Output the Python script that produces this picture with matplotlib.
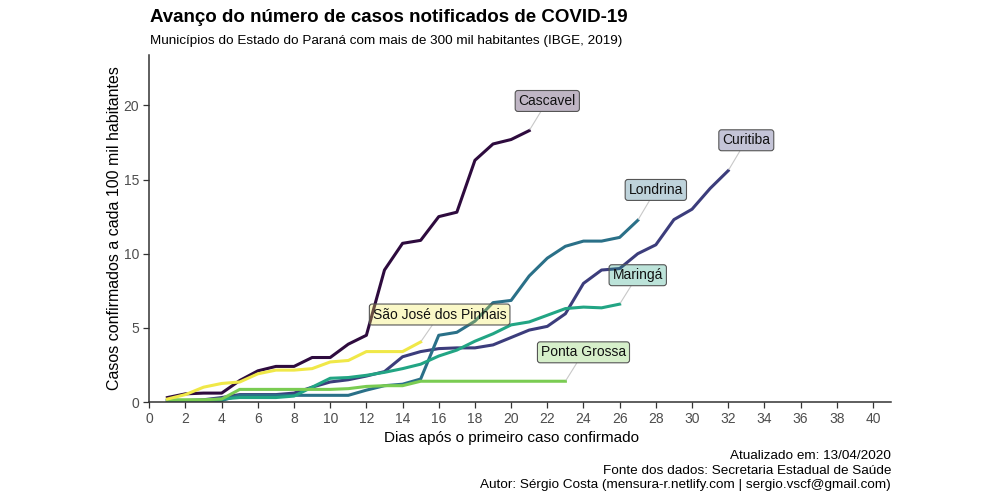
import matplotlib
matplotlib.use("Agg")
import matplotlib.pyplot as plt
from matplotlib.colors import to_rgba

plt.rcParams['font.family'] = ['Liberation Sans', 'DejaVu Sans']

# casos por 100 mil habitantes, a partir do dia 1
cascavel = [0.3, 0.55, 0.6, 0.6, 1.45, 2.1, 2.4, 2.4, 3.0, 3.0, 3.9, 4.5, 8.9, 10.7,
            10.9, 12.5, 12.8, 16.3, 17.4, 17.7, 18.3]
curitiba = [0.1, 0.1, 0.15, 0.3, 0.5, 0.5, 0.5, 0.6, 1.0, 1.35, 1.5, 1.75, 2.05, 3.05,
            3.4, 3.6, 3.65, 3.65, 3.85, 4.35, 4.85, 5.1, 5.95, 8.0, 8.9, 9.0, 10.0,
            10.6, 12.3, 13.0, 14.4, 15.6]
londrina = [0.1, 0.1, 0.1, 0.1, 0.45, 0.45, 0.45, 0.45, 0.45, 0.45, 0.45, 0.8, 1.1,
            1.2, 1.55, 4.5, 4.7, 5.45, 6.7, 6.85, 8.5, 9.7, 10.5, 10.85, 10.85, 11.1, 12.25]
maringa = [0.1, 0.1, 0.1, 0.2, 0.3, 0.3, 0.3, 0.4, 1.0, 1.6, 1.65, 1.8, 2.0, 2.25,
           2.55, 3.1, 3.5, 4.1, 4.6, 5.2, 5.4, 5.85, 6.3, 6.4, 6.35, 6.6]
ponta_grossa = [0.15, 0.15, 0.15, 0.2, 0.85, 0.85, 0.85, 0.85, 0.85, 0.85, 0.9, 1.05,
                1.1, 1.1, 1.4, 1.4, 1.4, 1.4, 1.4, 1.4, 1.4, 1.4, 1.4]
sao_jose = [0.2, 0.5, 1.0, 1.25, 1.35, 1.9, 2.15, 2.15, 2.25, 2.7, 2.8, 3.4, 3.4, 3.4, 4.05]

names = ['Cascavel', 'Curitiba', 'Londrina', 'Maringá', 'Ponta Grossa', 'São José dos Pinhais']
series = [cascavel, curitiba, londrina, maringa, ponta_grossa, sao_jose]
colors = ['#2e0b3e', '#3c3d7c', '#2a7088', '#22a584', '#7acc52', '#f0e848']
label_x = [22.0, 33.0, 28.0, 27.0, 24.0, 16.05]
label_y = [20.3, 17.65, 14.3, 8.55, 3.35, 5.9]

fig = plt.figure(figsize=(9.98, 5.0), dpi=100)
ax = fig.add_axes([0.1496, 0.196, 0.7432, 0.694])

for name, vals, c, lx, ly in zip(names, series, colors, label_x, label_y):
    days = list(range(1, len(vals) + 1))
    ax.plot(days, vals, color=c, lw=2.2, solid_joinstyle='round')
    ax.annotate(name, xy=(days[-1], vals[-1]), xytext=(lx, ly),
                ha='center', va='center', fontsize=10, color='#111111',
                bbox=dict(boxstyle='round,pad=0.25,rounding_size=0.2',
                          fc=to_rgba(c, 0.3), ec='#555555', lw=0.8),
                arrowprops=dict(arrowstyle='-', color='#c8c8c8', lw=0.8,
                                shrinkA=0, shrinkB=1))

ax.set_xlim(0, 41)
ax.set_ylim(0, 23.4)
ax.set_xticks(range(0, 41, 2))
ax.set_yticks([0, 5, 10, 15, 20])
for s in ['top', 'right']:
    ax.spines[s].set_visible(False)
for s in ['left', 'bottom']:
    ax.spines[s].set_color('#333333')
    ax.spines[s].set_linewidth(1.1)
ax.tick_params(colors='#333333', labelcolor='#4d4d4d', labelsize=10, length=4, width=0.9)

ax.set_xlabel('Dias após o primeiro caso confirmado', fontsize=11)
ax.xaxis.set_label_coords(0.489, -0.085)
ax.set_ylabel('Casos confirmados a cada 100 mil habitantes', fontsize=11.5)
ax.yaxis.set_label_coords(-0.037, 0.5)

fig.text(0.150, 0.966, 'Avanço do número de casos notificados de COVID-19',
         fontsize=13.5, fontweight='bold', va='center')
fig.text(0.150, 0.918, 'Municípios do Estado do Paraná com mais de 300 mil habitantes (IBGE, 2019)',
         fontsize=9.7, va='center')

fig.text(0.893, 0.088, 'Atualizado em: 13/04/2020', fontsize=9.7, ha='right', va='center')
fig.text(0.893, 0.059, 'Fonte dos dados: Secretaria Estadual de Saúde', fontsize=9.7, ha='right', va='center')
fig.text(0.893, 0.030, 'Autor: Sérgio Costa (mensura-r.netlify.com | sergio.vscf@gmail.com)',
         fontsize=9.7, ha='right', va='center')

fig.savefig('out.png', dpi=100)
